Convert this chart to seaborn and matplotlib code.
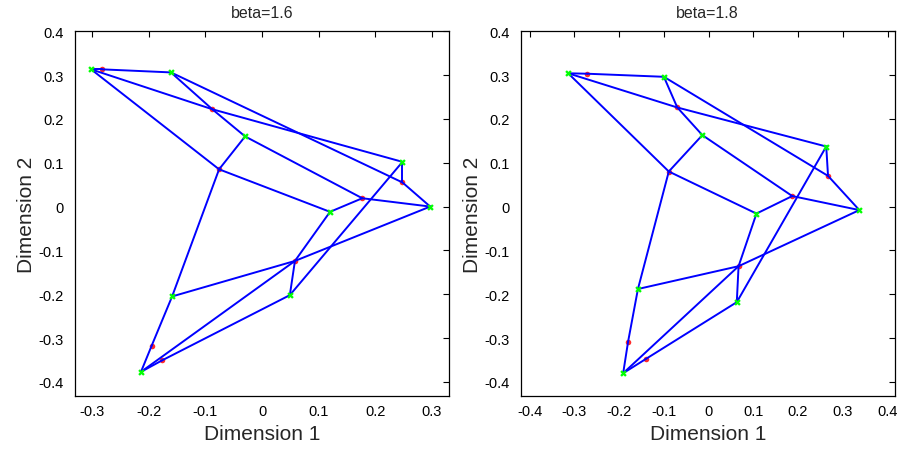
import matplotlib
matplotlib.use("Agg")
import matplotlib.pyplot as plt
import numpy as np
import pandas as pd
import seaborn as sns

# Node layout for the two embeddings (Dimension 1, Dimension 2)
node_names = ["A", "a", "B", "b", "C", "c", "D", "d", "e", "E",
              "F", "G", "g1", "g2", "H", "h", "I"]
# primary nodes drawn green, bend/secondary nodes drawn red
primary_nodes = ["A", "B", "C", "D", "E", "F", "G", "H", "I"]

beta16_x = [-0.302, -0.283, -0.161, -0.088, -0.030, -0.076, 0.248, 0.248, 0.177, 0.297,
            0.120, -0.159, -0.195, -0.177, -0.214, 0.058, 0.049]
beta16_y = [0.313, 0.313, 0.306, 0.222, 0.160, 0.085, 0.102, 0.055, 0.019, 0.000,
            -0.012, -0.205, -0.317, -0.351, -0.377, -0.124, -0.202]

beta18_x = [-0.314, -0.271, -0.100, -0.070, -0.014, -0.089, 0.263, 0.267, 0.187, 0.337,
            0.107, -0.158, -0.180, -0.141, -0.191, 0.067, 0.063]
beta18_y = [0.304, 0.303, 0.296, 0.226, 0.163, 0.080, 0.137, 0.070, 0.024, -0.008,
            -0.016, -0.188, -0.308, -0.348, -0.380, -0.136, -0.218]

edges = [("A", "a"), ("a", "B"), ("A", "b"), ("b", "D"), ("A", "c"),
         ("B", "b"), ("b", "C"), ("B", "d"), ("C", "c"), ("C", "e"),
         ("c", "F"), ("c", "G"), ("G", "g1"), ("g1", "H"), ("D", "d"),
         ("d", "E"), ("D", "I"), ("e", "E"), ("F", "e"), ("F", "h"),
         ("G", "h"), ("h", "E"), ("h", "I"), ("H", "h"), ("H", "g2"),
         ("g2", "I")]

titles = ["beta=1.6", "beta=1.8"]
x_ticks_16 = [-0.3, -0.2, -0.1, 0, 0.1, 0.2, 0.3]
x_ticks_18 = [-0.4, -0.3, -0.2, -0.1, 0, 0.1, 0.2, 0.3, 0.4]
y_ticks = [-0.4, -0.3, -0.2, -0.1, 0, 0.1, 0.2, 0.3, 0.4]

sns.set_style("white")
plt.rcParams["font.family"] = ["Liberation Sans", "DejaVu Sans"]
plt.rcParams["axes.unicode_minus"] = False


def tick_text(v):
    return "0" if v == 0 else f"{v:g}"


def draw_panel(ax, xs, ys, title, xticks, xlim):
    nodes = pd.DataFrame({"name": node_names, "x": xs, "y": ys}).set_index("name")
    rows = []
    for k, (u, v) in enumerate(edges):
        rows.append({"edge": k, "x": nodes.loc[u, "x"], "y": nodes.loc[u, "y"]})
        rows.append({"edge": k, "x": nodes.loc[v, "x"], "y": nodes.loc[v, "y"]})
    edge_df = pd.DataFrame(rows)

    is_primary = nodes.index.isin(primary_nodes)
    sec = nodes[~is_primary]
    pri = nodes[is_primary]

    sns.scatterplot(data=sec, x="x", y="y", ax=ax, color="#ff2a2a", s=16,
                    marker="o", linewidth=0, zorder=2)
    sns.lineplot(data=edge_df, x="x", y="y", units="edge", estimator=None,
                 sort=False, color="#0000ff", linewidth=1.4, ax=ax, zorder=3)
    sns.scatterplot(data=pri, x="x", y="y", ax=ax, color="#00ff00", s=22,
                    marker="X", linewidth=0, zorder=4)

    ax.set_xlim(*xlim)
    ax.set_ylim(-0.432, 0.4)
    ax.set_xticks(xticks)
    ax.set_xticklabels([tick_text(v) for v in xticks])
    ax.set_yticks(y_ticks)
    ax.set_yticklabels([tick_text(v) for v in y_ticks])
    ax.tick_params(direction="in", length=4, width=0.8, top=True, right=True,
                   labelsize=10.5, colors="black")
    ax.tick_params(axis="y", pad=8)
    ax.tick_params(axis="x", pad=6)
    for sp in ax.spines.values():
        sp.set_visible(True)
        sp.set_color("black")
        sp.set_linewidth(0.9)
    ax.set_title(title, fontsize=11.5, pad=10)
    ax.set_xlabel("Dimension 1", fontsize=15, labelpad=4)
    ax.set_ylabel("Dimension 2", fontsize=15, labelpad=2)


fig = plt.figure(figsize=(9.12, 4.6), dpi=100)
ax1 = fig.add_axes([0.0822, 0.137, 0.410, 0.793])
ax2 = fig.add_axes([0.571, 0.137, 0.410, 0.793])

draw_panel(ax1, beta16_x, beta16_y, titles[0], x_ticks_16, (-0.3306, 0.33))
draw_panel(ax2, beta18_x, beta18_y, titles[1], x_ticks_18, (-0.42, 0.416))

fig.savefig("out.png", dpi=100)
